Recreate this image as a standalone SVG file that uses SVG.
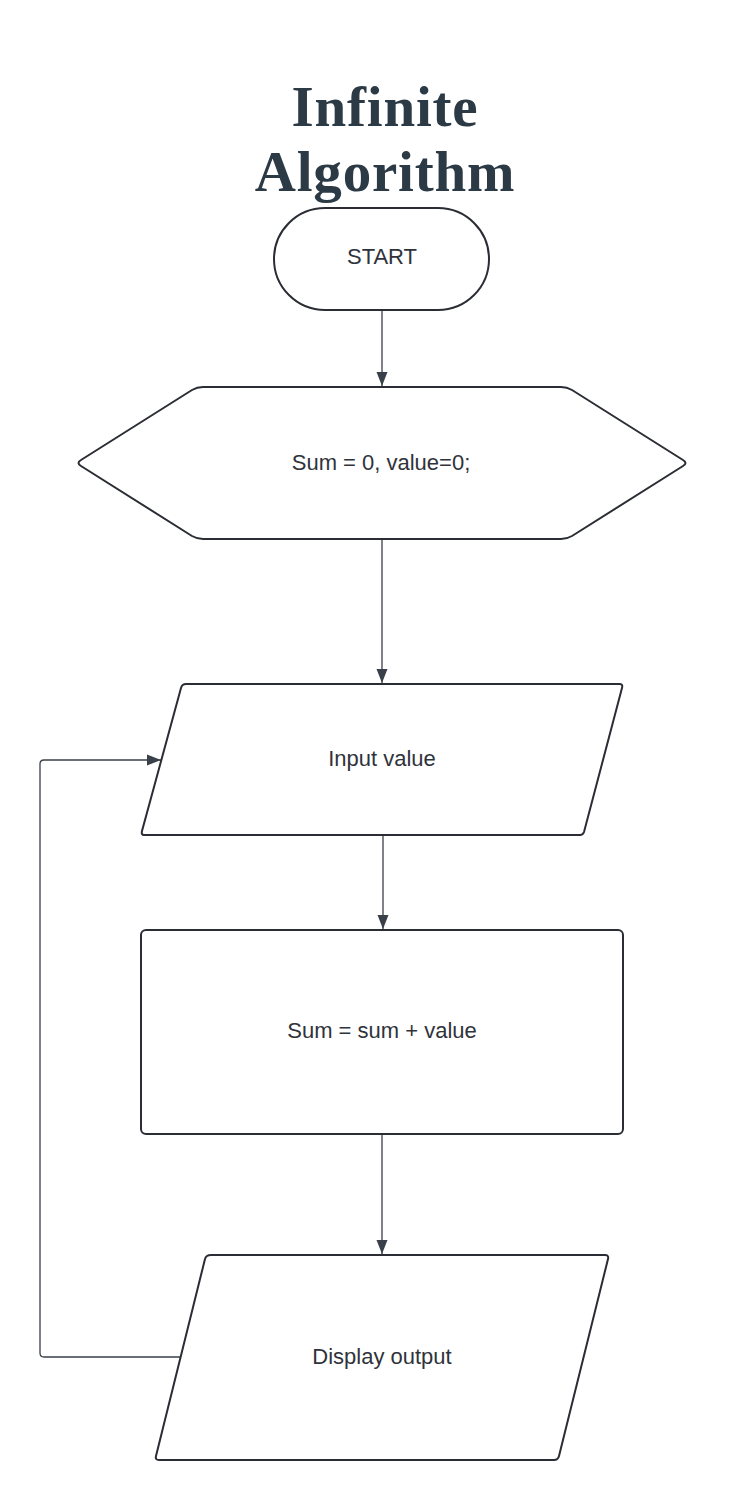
<svg xmlns="http://www.w3.org/2000/svg" width="730" height="1500" viewBox="0 0 730 1500">
<style>
.node{fill:#ffffff;stroke:#2a2d33;stroke-width:2;stroke-linejoin:round}
.lbl{font-family:"Liberation Sans",Arial,sans-serif;font-size:22px;fill:#2f333b;text-anchor:middle;dominant-baseline:central}
.title{font-family:"Liberation Serif","Times New Roman",serif;font-weight:bold;font-size:57px;letter-spacing:0.8px;fill:#2b3a45;text-anchor:middle}
.conn{fill:none;stroke:#3a4049;stroke-width:1.3;stroke-linejoin:round}
</style>
<defs>
<marker id="arr" viewBox="0 0 14 12" refX="14" refY="6" markerWidth="14" markerHeight="12" markerUnits="userSpaceOnUse" orient="auto">
<path d="M0,0.5 L14,6 L0,11.5 Z" fill="#3a4049"/>
</marker>
</defs>
<rect width="730" height="1500" fill="#ffffff"/>
<g id="title">
<text class="title" x="385" y="126">Infinite</text>
<text class="title" x="385" y="191">Algorithm</text>
</g>
<g id="connectors">
<line class="conn" x1="382" y1="310" x2="382" y2="386" marker-end="url(#arr)"/>
<line class="conn" x1="382" y1="539" x2="382" y2="683" marker-end="url(#arr)"/>
<line class="conn" x1="383" y1="835" x2="383" y2="929" marker-end="url(#arr)"/>
<line class="conn" x1="382" y1="1134" x2="382" y2="1254" marker-end="url(#arr)"/>
<path class="conn" d="M181,1357 L44,1357 Q40,1357 40,1353 L40,764 Q40,760 44,760 L161,760" marker-end="url(#arr)"/>
</g>
<g id="start">
<rect class="node" x="274" y="208" width="215" height="102" rx="51" ry="51"/>
<text class="lbl" x="382" y="256">START</text>
</g>
<g id="init">
<path class="node" d="M203,387 L561,387 Q567,387 572,390 L683,460 Q688,463 683,466 L572,536 Q567,539 561,539 L203,539 Q197,539 192,536 L81,466 Q76,463 81,460 L192,390 Q197,387 203,387 Z"/>
<text class="lbl" x="381" y="462">Sum = 0, value=0;</text>
</g>
<g id="input">
<path class="node" d="M186,684 L620,684 Q623,684 622,688 L584,832 Q583,835 580,835 L144,835 Q141,835 142,831 L181,688 Q182,684 186,684 Z"/>
<text class="lbl" x="382" y="758">Input value</text>
</g>
<g id="process">
<rect class="node" x="141" y="930" width="482" height="204" rx="5" ry="5"/>
<text class="lbl" x="382" y="1030">Sum = sum + value</text>
</g>
<g id="output">
<path class="node" d="M211,1255 L605,1255 Q609,1255 608,1259 L559,1456 Q558,1460 554,1460 L159,1460 Q155,1460 156,1456 L205,1259 Q206,1255 211,1255 Z"/>
<text class="lbl" x="382" y="1356">Display output</text>
</g>
</svg>
